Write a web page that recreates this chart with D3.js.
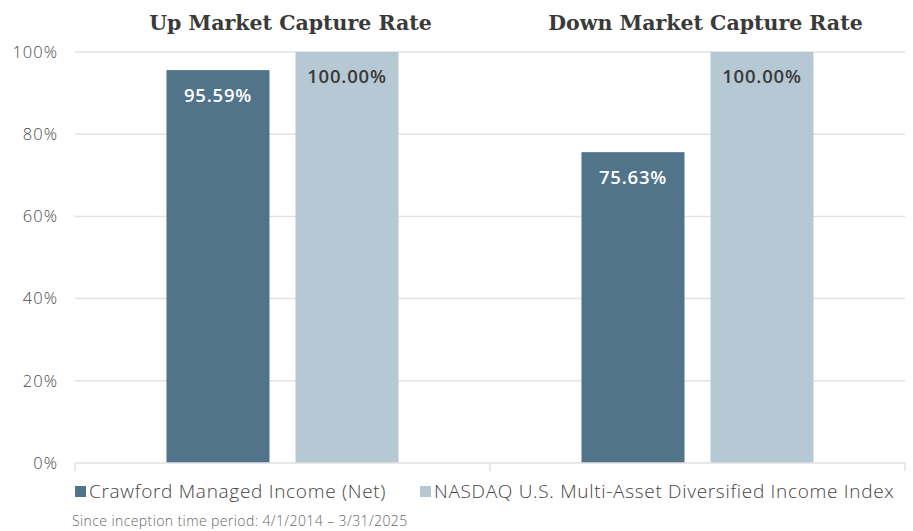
<!DOCTYPE html>
<html><head><meta charset="utf-8">
<script src="https://cdn.jsdelivr.net/npm/d3@7"></script>
<style>
body{margin:0;background:#fff;}
svg{display:block;}
</style></head>
<body>
<svg id="chart" width="913" height="531"></svg>
<script>
const categories = ["Up Market Capture Rate", "Down Market Capture Rate"];
const seriesNames = ["Crawford Managed Income (Net)", "NASDAQ U.S. Multi-Asset Diversified Income Index"];
const crawford = [95.59, 75.63];
const nasdaq = [100.00, 100.00];
const yTicks = [0, 20, 40, 60, 80, 100];
const footnote = "Since inception time period: 4/1/2014 \u2013 3/31/2025";
const colors = ["#51748a", "#b6c8d4"];

const svg = d3.select("#chart");
const m = {left: 75, right: 8, top: 52, bottom: 68};
const W = 913, H = 531;
const x = d3.scaleBand().domain(categories).range([m.left, W - m.right]).paddingInner(0).paddingOuter(0);
const x1 = d3.scaleBand().domain(seriesNames).range([0, x.bandwidth()]).paddingInner(0.2016).paddingOuter(0.709);
const y = d3.scaleLinear().domain([0, 100]).range([H - m.bottom, m.top]);

// gridlines
svg.append("g").selectAll("line").data(yTicks.filter(d => d > 0)).join("line")
  .attr("x1", m.left).attr("x2", W - m.right)
  .attr("y1", d => y(d)).attr("y2", d => y(d))
  .attr("stroke", "#e3e3e3").attr("stroke-width", 1.5);

// y labels
const font = "'Open Sans', 'Noto Sans', sans-serif";
svg.append("g").selectAll("text").data(yTicks).join("text")
  .attr("x", 58).attr("y", d => y(d)).attr("dy", "0.35em")
  .attr("text-anchor", "end").attr("font-family", font).attr("font-size", 16.5)
  .attr("letter-spacing", 1)
  .attr("font-weight", 300).attr("fill", "#4a4a4a").text(d => d + "%");

// bars
const data = categories.map((c, i) => ({c, vals: [crawford[i], nasdaq[i]]}));
const g = svg.append("g").selectAll("g").data(data).join("g")
  .attr("transform", d => `translate(${x(d.c)},0)`);
g.selectAll("rect").data(d => d.vals.map((v, j) => ({v, j}))).join("rect")
  .attr("x", d => x1(seriesNames[d.j])).attr("width", x1.bandwidth())
  .attr("y", d => y(d.v)).attr("height", d => y(0) - y(d.v))
  .attr("fill", d => colors[d.j]);
g.selectAll("text.lbl").data(d => d.vals.map((v, j) => ({v, j}))).join("text")
  .attr("class", "lbl")
  .attr("x", d => x1(seriesNames[d.j]) + x1.bandwidth() / 2)
  .attr("y", d => y(d.v) + 25).attr("dy", "0.35em")
  .attr("text-anchor", "middle").attr("font-family", font).attr("font-size", 18.5)
  .attr("letter-spacing", 0.8)
  .attr("font-weight", 600).attr("fill", d => d.j === 0 ? "#fff" : "#3a3a3a")
  .text(d => d.v.toFixed(2) + "%");

// x axis
const ax = svg.append("g");
ax.append("line").attr("x1", m.left).attr("x2", W - m.right)
  .attr("y1", y(0)).attr("y2", y(0)).attr("stroke", "#e0e0e0").attr("stroke-width", 1.5);
const tickXs = categories.map(c => x(c)).concat([x(categories[categories.length - 1]) + x.bandwidth()]);
ax.selectAll("line.t").data(tickXs).join("line").attr("class", "t")
  .attr("x1", d => d).attr("x2", d => d).attr("y1", y(0)).attr("y2", y(0) + 8)
  .attr("stroke", "#e0e0e0").attr("stroke-width", 1.5);

// titles
svg.append("g").selectAll("text").data(categories).join("text")
  .attr("x", d => x(d) + x.bandwidth() / 2 + 8).attr("y", 30)
  .attr("text-anchor", "middle").attr("font-family", "'DejaVu Serif', 'Liberation Serif', serif")
  .attr("font-weight", "bold").attr("font-size", 20.5).attr("fill", "#3a3a3a")
  .text(d => d);

// legend
const lg = svg.append("g");
const legX = [75, 420];
seriesNames.forEach((s, i) => {
  lg.append("rect").attr("x", legX[i]).attr("y", 486).attr("width", 11).attr("height", 11).attr("fill", colors[i]);
  lg.append("text").attr("x", legX[i] + 14).attr("y", 498)
    .attr("font-family", font).attr("font-size", 19).attr("letter-spacing", 0.7)
    .attr("font-weight", 300).attr("fill", "#444").text(s);
});
svg.append("text").attr("x", 72).attr("y", 526)
  .attr("font-family", font).attr("font-size", 14).attr("letter-spacing", 0.4)
  .attr("font-weight", 300).attr("fill", "#666").text(footnote);
</script>
</body></html>
